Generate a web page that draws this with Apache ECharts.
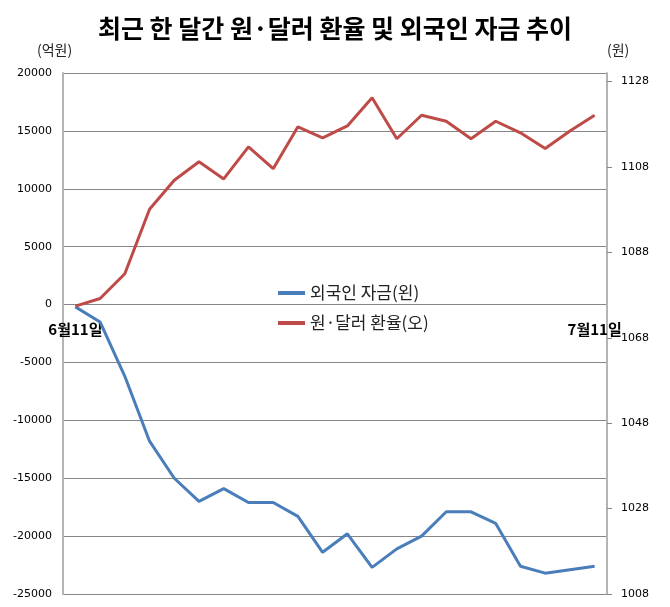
<!DOCTYPE html>
<html>
<head>
<meta charset="utf-8">
<script src="https://cdn.jsdelivr.net/npm/echarts@6/dist/echarts.min.js"></script>
<style>
html,body{margin:0;padding:0;background:#fff;}
#c{width:670px;height:607px;}
</style>
</head>
<body>
<div id="c"></div>
<script>
var categories = ['6월11일','6월12일','6월13일','6월14일','6월15일','6월18일','6월19일','6월20일','6월21일','6월22일','6월25일','6월26일','6월27일','6월28일','6월29일','7월2일','7월3일','7월4일','7월5일','7월6일','7월9일','7월11일'];
var foreignFunds = [-200, -1500, -6200, -11800, -15000, -17000, -15900, -17100, -17100, -18300, -21400, -19800, -22700, -21100, -20000, -17900, -17900, -18900, -22600, -23200, -22900, -22600];
var wonDollar = [1075.4, 1077.2, 1083.0, 1098.1, 1104.9, 1109.2, 1105.2, 1112.7, 1107.6, 1117.4, 1114.8, 1117.6, 1124.2, 1114.6, 1120.1, 1118.7, 1114.6, 1118.7, 1116.0, 1112.3, 1116.4, 1120.1];
var leftTicks = {min: -25000, max: 20000, interval: 5000};
var rightTicks = {min: 1008, max: 1130, interval: 20};

var KR = '"Noto Sans CJK KR", "Noto Sans", sans-serif';
var gridTop = 73, gridBottom = 13, H = 607;
var gridHeight = H - gridTop - gridBottom;
// category axis sits on the zero line of the left axis
var zeroOffset = -gridHeight * (0 - leftTicks.min) / (leftTicks.max - leftTicks.min);

var chart = echarts.init(document.getElementById('c'), null, {renderer: 'canvas'});
chart.setOption({
  animation: false,
  backgroundColor: '#fff',
  title: {
    text: '최근 한 달간 원·달러 환율 및 외국인 자금 추이',
    left: 'center',
    top: 11,
    textStyle: {fontFamily: KR, fontWeight: 'bold', fontSize: 25, color: '#000'}
  },
  graphic: [
    {type: 'text', left: 37, top: 43, style: {text: '(억원)', font: '14px ' + KR, fill: '#222'}},
    {type: 'text', left: 607, top: 43, style: {text: '(원)', font: '14px ' + KR, fill: '#222'}}
  ],
  legend: {
    orient: 'vertical',
    left: 278,
    top: 283,
    padding: 0,
    itemWidth: 27,
    itemHeight: 4,
    itemGap: 10,
    icon: 'rect',
    textStyle: {fontFamily: KR, fontSize: 17, color: '#222', lineHeight: 20},
    data: ['외국인 자금(왼)', '원·달러 환율(오)']
  },
  grid: {left: 63, right: 63, top: gridTop, bottom: gridBottom, containLabel: false},
  xAxis: {
    type: 'category',
    data: categories,
    boundaryGap: true,
    position: 'bottom',
    offset: zeroOffset,
    axisLine: {show: false, onZero: false},
    axisTick: {show: false},
    splitLine: {show: false},
    axisLabel: {
      interval: function (i) { return i === 0 || i === categories.length - 1; },
      margin: 17,
      fontFamily: KR,
      fontWeight: 'bold',
      fontSize: 15,
      color: '#000'
    }
  },
  yAxis: [
    {
      type: 'value',
      position: 'left',
      min: leftTicks.min, max: leftTicks.max, interval: leftTicks.interval,
      axisLine: {show: true, onZero: false, lineStyle: {color: '#b4b4b4', width: 2}},
      axisTick: {show: false},
      splitLine: {show: true, lineStyle: {color: '#868686', width: 1}},
      axisLabel: {fontFamily: 'DejaVu Sans', fontSize: 11, color: '#000', margin: 11,
        formatter: function (v) { return String(v); }}
    },
    {
      type: 'value',
      position: 'right',
      min: rightTicks.min, max: rightTicks.max, interval: rightTicks.interval,
      axisLine: {show: true, onZero: false, lineStyle: {color: '#b4b4b4', width: 2}},
      axisTick: {show: true, length: 5, lineStyle: {color: '#868686'}},
      splitLine: {show: false},
      axisLabel: {fontFamily: 'DejaVu Sans', fontSize: 11, color: '#000', margin: 14, showMaxLabel: false,
        formatter: function (v) { return (v - rightTicks.min) % rightTicks.interval === 0 ? String(v) : ''; }}
    }
  ],
  series: [
    {
      name: '외국인 자금(왼)',
      type: 'line',
      yAxisIndex: 0,
      data: foreignFunds,
      symbol: 'none',
      lineStyle: {color: '#4a7ebb', width: 3},
      itemStyle: {color: '#4a7ebb'}
    },
    {
      name: '원·달러 환율(오)',
      type: 'line',
      yAxisIndex: 1,
      data: wonDollar,
      symbol: 'none',
      lineStyle: {color: '#be4b48', width: 3},
      itemStyle: {color: '#be4b48'}
    }
  ]
});
</script>
</body>
</html>
